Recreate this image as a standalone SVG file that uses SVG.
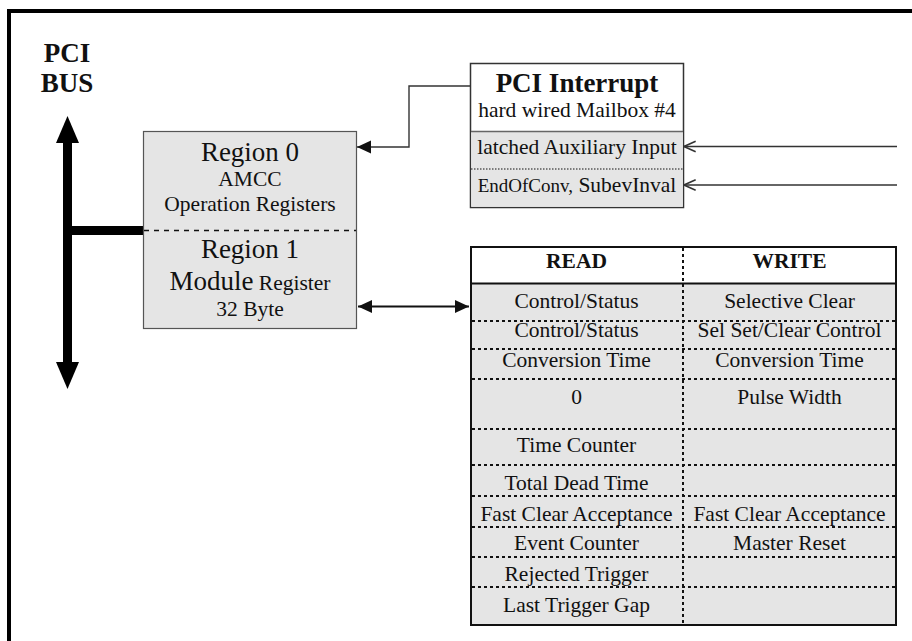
<svg xmlns="http://www.w3.org/2000/svg" width="912" height="641" viewBox="0 0 912 641">
<style>
text{font-family:"Liberation Serif","Times New Roman",serif;fill:#111;text-anchor:middle}
.b{font-weight:bold}
.s21{font-size:21.5px}
.s27{font-size:27px}
.box{fill:#e5e5e5;stroke:#555;stroke-width:1.2}
.dot{stroke:#111;stroke-width:2;stroke-dasharray:3 3;fill:none}
.conn{stroke:#333;stroke-width:1.4;fill:none}
</style>
<defs>
<marker id="fill" markerUnits="userSpaceOnUse" markerWidth="14" markerHeight="14" viewBox="0 0 12 12" refX="12" refY="6" orient="auto-start-reverse">
<path d="M0,0.5 L12,6 L0,11.5 Z" fill="#111"/>
</marker>
<marker id="open" markerUnits="userSpaceOnUse" markerWidth="14" markerHeight="14" viewBox="0 0 12 12" refX="11" refY="6" orient="auto">
<path d="M1,1.5 L11,6 L1,10.5" fill="none" stroke="#333" stroke-width="1.3"/>
</marker>
</defs>
<rect x="0" y="0" width="912" height="641" fill="#fff"/>
<path d="M9,645 L9,11 L916,11" fill="none" stroke="#000" stroke-width="4"/>

<g id="pci-bus">
<text class="b s27" x="67" y="62">PCI</text>
<text class="b s27" x="67" y="92">BUS</text>
<rect x="63" y="140" width="9" height="226" fill="#000"/>
<polygon points="67.5,116 56,143 79,143" fill="#000"/>
<polygon points="67.5,389 56,362 79,362" fill="#000"/>
<rect x="67" y="226" width="77" height="9" fill="#000"/>
</g>

<g id="regions">
<rect class="box" x="143.5" y="131.5" width="213" height="197"/>
<line x1="144" y1="230.5" x2="356" y2="230.5" stroke="#111" stroke-width="1.5" stroke-dasharray="5 5"/>
<text class="s27" x="250" y="160.5">Region 0</text>
<text class="s21" x="250" y="186">AMCC</text>
<text class="s21" x="250" y="211">Operation Registers</text>
<text class="s27" x="250" y="258">Region 1</text>
<text x="250" y="290"><tspan class="s27">Module</tspan><tspan class="s21"> Register</tspan></text>
<text class="s21" x="250" y="316">32 Byte</text>
</g>

<g id="pci-interrupt">
<rect x="470.5" y="63.5" width="213" height="144" fill="#fff" stroke="#333" stroke-width="1.5"/>
<rect x="471.2" y="131.5" width="211.6" height="75.3" fill="#e5e5e5"/>
<line x1="471" y1="131.5" x2="683" y2="131.5" stroke="#666" stroke-width="1.5"/>
<line x1="471" y1="169" x2="683" y2="169" stroke="#111" stroke-width="1" stroke-dasharray="1.5 1.5"/>
<text class="b" x="577" y="92" style="font-size:27px">PCI Interrupt</text>
<text class="s21" x="577" y="117">hard wired Mailbox #4</text>
<text class="s21" x="577" y="154">latched Auxiliary Input</text>
<text x="577" y="191.5"><tspan style="font-size:19px">EndOfConv,</tspan><tspan class="s21"> SubevInval</tspan></text>
</g>

<g id="register-table">
<rect x="471" y="247" width="425" height="378" fill="#e5e5e5" stroke="#111" stroke-width="2"/>
<rect x="472" y="248" width="423" height="35" fill="#fff"/>
<line x1="471" y1="283.5" x2="896" y2="283.5" stroke="#111" stroke-width="2"/>
<path class="dot" d="M472,321H895M472,349H895M472,379H895M472,429H895M472,465H895M472,496H895M472,527H895M472,557H895M472,587H895M683,248V624"/>
<text class="b s21" x="576.5" y="268">READ</text>
<text class="b s21" x="789.5" y="268">WRITE</text>
<g class="s21">
<text x="576.5" y="308">Control/Status</text>
<text x="789.5" y="308">Selective Clear</text>
<text x="576.5" y="337">Control/Status</text>
<text x="789.5" y="337">Sel Set/Clear Control</text>
<text x="576.5" y="367">Conversion Time</text>
<text x="789.5" y="367">Conversion Time</text>
<text x="576.5" y="404">0</text>
<text x="789.5" y="404">Pulse Width</text>
<text x="576.5" y="451.5">Time Counter</text>
<text x="576.5" y="490">Total Dead Time</text>
<text x="576.5" y="520.5">Fast Clear Acceptance</text>
<text x="789.5" y="520.5">Fast Clear Acceptance</text>
<text x="576.5" y="550">Event Counter</text>
<text x="789.5" y="550">Master Reset</text>
<text x="576.5" y="580.5">Rejected Trigger</text>
<text x="576.5" y="611.5">Last Trigger Gap</text>
</g>
</g>

<g id="connectors">
<path class="conn" d="M470,86 H409 V147 H357" marker-end="url(#fill)"/>
<line x1="358" y1="306.5" x2="469" y2="306.5" stroke="#111" stroke-width="2.2" marker-start="url(#fill)" marker-end="url(#fill)"/>
<line class="conn" x1="897" y1="146.5" x2="684" y2="146.5" marker-end="url(#open)"/>
<line class="conn" x1="897" y1="185" x2="684" y2="185" marker-end="url(#open)"/>
</g>
</svg>
